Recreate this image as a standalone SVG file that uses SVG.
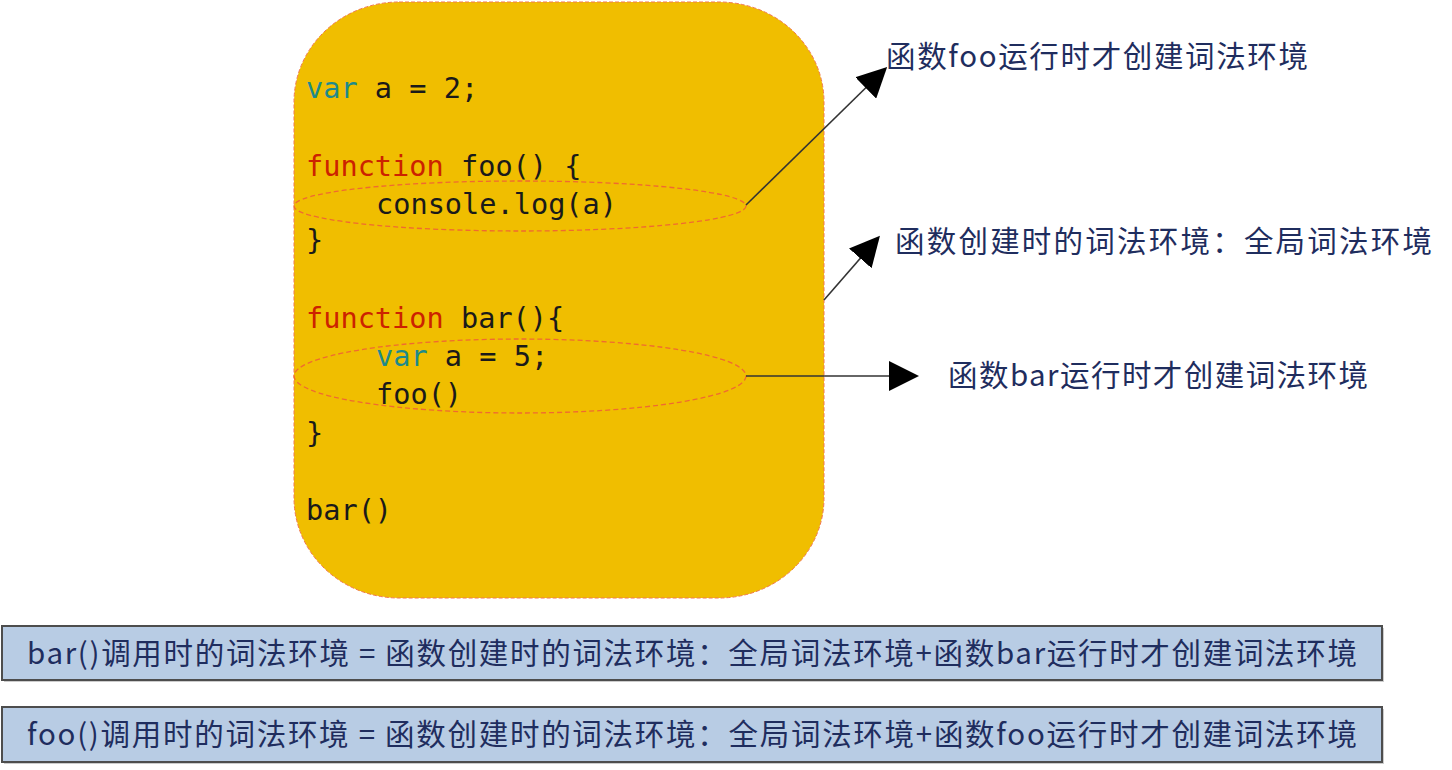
<svg xmlns="http://www.w3.org/2000/svg" width="1452" height="770" viewBox="0 0 1452 770">
<style>
.code{font-family:"DejaVu Sans Mono","Liberation Mono",monospace;font-size:28.6px;fill:#1a1a1a}
.kw{fill:#cc2200}
.var{fill:#1f8a8a}
.lbl{font-family:"Noto Sans CJK SC","Noto Sans",sans-serif;font-size:29.5px;fill:#1f2d5e}
.box{fill:#b8cce4;stroke:#4d4d4d;stroke-width:2}
.shadow{fill:#9a9a9a;opacity:0.5}
.scope{fill:none;stroke:#f06a30;stroke-width:1.3;stroke-dasharray:5 3}
.conn{stroke:#333;stroke-width:1.6;fill:none}
</style>
<defs>
<marker id="arrow" viewBox="0 0 10 10" refX="9" refY="5" markerWidth="30" markerHeight="30" markerUnits="userSpaceOnUse" orient="auto">
<path d="M0,0 L10,5 L0,10 z" fill="#000"/>
</marker>
</defs>
<g id="global-scope">
<rect x="294" y="2" width="530" height="596" rx="105" ry="100" fill="#f0be00" stroke="#f07850" stroke-width="1" stroke-dasharray="4 2"/>
<text class="code" x="306" y="98"><tspan class="var">var</tspan> a = 2;</text>
<text class="code" x="306" y="176"><tspan class="kw">function</tspan> foo() {</text>
<text class="code" x="376" y="214">console.log(a)</text>
<text class="code" x="306" y="250">}</text>
<text class="code" x="306" y="328"><tspan class="kw">function</tspan> bar(){</text>
<text class="code" x="376" y="366"><tspan class="var">var</tspan> a = 5;</text>
<text class="code" x="376" y="404">foo()</text>
<text class="code" x="306" y="443">}</text>
<text class="code" x="306" y="520">bar()</text>
</g>
<g id="foo-scope">
<ellipse class="scope" cx="520" cy="206" rx="226" ry="25"/>
</g>
<g id="bar-scope">
<ellipse class="scope" cx="520" cy="376" rx="226" ry="37"/>
</g>
<g id="connectors">
<line class="conn" x1="746" y1="205" x2="885" y2="69" marker-end="url(#arrow)"/>
<line class="conn" x1="824" y1="300" x2="878" y2="238" marker-end="url(#arrow)"/>
<line class="conn" x1="746" y1="376" x2="916" y2="376" marker-end="url(#arrow)"/>
</g>
<g id="label-foo-env">
<text class="lbl" x="886" y="67" textLength="422" lengthAdjust="spacing">函数foo运行时才创建词法环境</text>
</g>
<g id="label-create-env">
<text class="lbl" x="895" y="252" textLength="537" lengthAdjust="spacing">函数创建时的词法环境：全局词法环境</text>
</g>
<g id="label-bar-env">
<text class="lbl" x="948" y="386" textLength="420" lengthAdjust="spacing">函数bar运行时才创建词法环境</text>
</g>
<g id="bar-call-env">
<rect class="shadow" x="4" y="628" width="1380" height="54"/>
<rect class="box" x="2" y="626" width="1380" height="54"/>
<text class="lbl" x="27" y="664" textLength="1330" lengthAdjust="spacing">bar()调用时的词法环境 = 函数创建时的词法环境：全局词法环境+函数bar运行时才创建词法环境</text>
</g>
<g id="foo-call-env">
<rect class="shadow" x="4" y="709" width="1380" height="55"/>
<rect class="box" x="2" y="707" width="1380" height="55"/>
<text class="lbl" x="27" y="745" textLength="1330" lengthAdjust="spacing">foo()调用时的词法环境 = 函数创建时的词法环境：全局词法环境+函数foo运行时才创建词法环境</text>
</g>
</svg>
